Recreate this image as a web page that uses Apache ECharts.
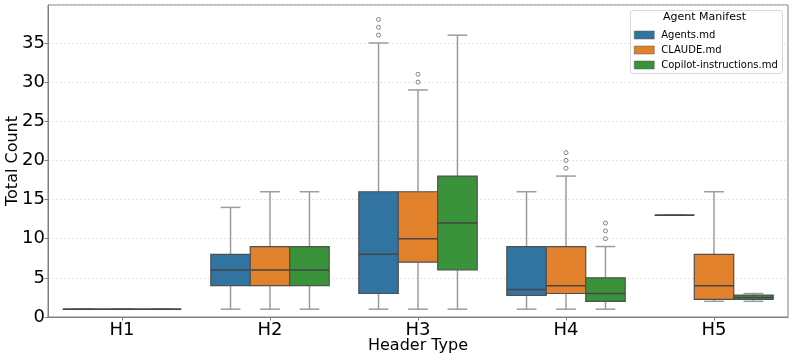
<!DOCTYPE html>
<html>
<head>
<meta charset="utf-8">
<script src="https://cdn.jsdelivr.net/npm/echarts@6/dist/echarts.min.js"></script>
<style>
html,body{margin:0;padding:0;background:#fff;}
#chart{width:793px;height:361px;}
</style>
</head>
<body>
<div id="chart"></div>
<script>
// Categories and hue names
const categories = ['H1', 'H2', 'H3', 'H4', 'H5'];
const hueNames = ['Agents.md', 'CLAUDE.md', 'Copilot-instructions.md'];
const yTicks = [0, 5, 10, 15, 20, 25, 30, 35];

// Box stats per category: [whiskerLow, Q1, median, Q3, whiskerHigh]
const agentsStats = [
  [1, 1, 1, 1, 1],
  [1, 4, 6, 8, 14],
  [1, 3, 8, 16, 35],
  [1, 2.75, 3.5, 9, 16],
  [13, 13, 13, 13, 13]
];
const claudeStats = [
  [1, 1, 1, 1, 1],
  [1, 4, 6, 9, 16],
  [1, 7, 10, 16, 29],
  [1, 3, 4, 9, 18],
  [2, 2.25, 4, 8, 16]
];
const copilotStats = [
  [1, 1, 1, 1, 1],
  [1, 4, 6, 9, 16],
  [1, 6, 12, 18, 36],
  [1, 2, 3, 5, 9],
  [2, 2.25, 2.5, 2.8, 3]
];

// Outliers: [categoryIndex, value]
const agentsOutliers = [[2, 36], [2, 37], [2, 38]];
const claudeOutliers = [[2, 30], [2, 31], [3, 19], [3, 20], [3, 21]];
const copilotOutliers = [[3, 10], [3, 11], [3, 12]];

const colors = ['#3274a1', '#e1812c', '#3a923a'];
const statsList = [agentsStats, claudeStats, copilotStats];
const outlierList = [agentsOutliers, claudeOutliers, copilotOutliers];
const offsets = [-1 / 3 * 0.8, 0, 1 / 3 * 0.8];

function boxRenderer(offsetFrac, color) {
  return function (params, api) {
    const cat = api.value(0);
    const band = api.size([1, 0])[0];
    const xc = api.coord([cat, 0])[0] + offsetFrac * band;
    const w = band * 0.8 / 3;
    const y = v => api.coord([cat, v])[1];
    const lo = y(api.value(1)), q1 = y(api.value(2)), med = y(api.value(3)),
          q3 = y(api.value(4)), hi = y(api.value(5));
    const wStyle = { stroke: '#9c9c9c', lineWidth: 1.5, fill: null };
    const children = [
      { type: 'line', shape: { x1: xc, y1: q3, x2: xc, y2: hi }, style: wStyle },
      { type: 'line', shape: { x1: xc, y1: q1, x2: xc, y2: lo }, style: wStyle },
      { type: 'line', shape: { x1: xc - w / 4, y1: hi, x2: xc + w / 4, y2: hi }, style: wStyle },
      { type: 'line', shape: { x1: xc - w / 4, y1: lo, x2: xc + w / 4, y2: lo }, style: wStyle },
      { type: 'rect', shape: { x: xc - w / 2, y: q3, width: w, height: q1 - q3 },
        style: { fill: color, stroke: '#505050', lineWidth: 1.2 } },
      { type: 'line', shape: { x1: xc - w / 2, y1: med, x2: xc + w / 2, y2: med },
        style: { stroke: '#454545', lineWidth: 1.5 } }
    ];
    return { type: 'group', children: children };
  };
}

function outlierRenderer(offsetFrac) {
  return function (params, api) {
    const cat = api.value(0);
    const band = api.size([1, 0])[0];
    const pt = api.coord([cat, api.value(1)]);
    return {
      type: 'circle',
      shape: { cx: pt[0] + offsetFrac * band, cy: pt[1], r: 2 },
      style: { fill: '#fff', stroke: '#808080', lineWidth: 1 }
    };
  };
}

const series = [];
hueNames.forEach((name, i) => {
  series.push({
    name: name,
    type: 'custom',
    itemStyle: { color: colors[i] },
    renderItem: boxRenderer(offsets[i], colors[i]),
    encode: { x: 0, y: [1, 2, 3, 4, 5] },
    data: statsList[i].map((s, k) => [k].concat(s)),
    z: 3
  });
});
hueNames.forEach((name, i) => {
  series.push({
    name: name,
    type: 'custom',
    itemStyle: { color: colors[i] },
    renderItem: outlierRenderer(offsets[i]),
    encode: { x: 0, y: 1 },
    data: outlierList[i],
    z: 4
  });
});

const chart = echarts.init(document.getElementById('chart'), null, { renderer: 'canvas' });
const font = 'DejaVu Sans';
chart.setOption({
  animation: false,
  textStyle: { fontFamily: font },
  grid: { left: 48, right: 5, top: 5, bottom: 44, outerBoundsMode: 'none', containLabel: false,
          show: true, borderColor: '#808080', borderWidth: 1, backgroundColor: 'transparent' },
  xAxis: {
    type: 'category',
    data: categories,
    name: 'Header Type',
    nameLocation: 'middle',
    nameGap: 21,
    nameMoveOverlap: false,
    nameTextStyle: { fontSize: 16, color: '#000', fontFamily: font },
    axisLine: { lineStyle: { color: '#808080', width: 1 } },
    axisTick: { show: true, alignWithLabel: true, length: 3.5, lineStyle: { color: '#808080' } },
    axisLabel: { fontSize: 18, color: '#000', margin: 4, fontFamily: font },
    splitLine: { show: false }
  },
  yAxis: {
    type: 'value',
    min: 0,
    max: 39.85,
    interval: 5,
    name: 'Total Count',
    nameLocation: 'middle',
    nameGap: 27,
    nameMoveOverlap: false,
    nameTextStyle: { fontSize: 16, color: '#000', fontFamily: font },
    axisLine: { show: true, lineStyle: { color: '#808080', width: 1 } },
    axisTick: { show: true, length: 3.5, lineStyle: { color: '#808080' } },
    axisLabel: {
      fontSize: 18, color: '#000', margin: 3, fontFamily: font,
      showMaxLabel: false,
      formatter: v => (yTicks.indexOf(v) >= 0 ? String(v) : '')
    },
    splitLine: { show: true, lineStyle: { color: '#dcdcdc', type: [2, 2], width: 0.8 } }
  },
  legend: {
    data: hueNames.map(n => ({ name: n, icon: 'rect' })),
    orient: 'vertical',
    left: 634,
    top: 29,
    itemWidth: 20,
    itemHeight: 8,
    itemGap: 3,
    textStyle: { fontSize: 10, color: '#000', fontFamily: font, lineHeight: 12, padding: [0, 0, 0, 2] },
    itemStyle: { borderColor: '#555', borderWidth: 0.5 },
    padding: 0,
    selectedMode: false,
    z: 20
  },
  graphic: [
    { type: 'rect', left: 630, top: 10, shape: { width: 152, height: 63, r: 3 },
      style: { fill: 'rgba(255,255,255,0.8)', stroke: '#d6d6d6', lineWidth: 1 }, z: 10 }
  ],
  title: {
    text: 'Agent Manifest',
    left: 663,
    top: 12,
    padding: 0,
    z: 20,
    textStyle: { fontSize: 11, fontWeight: 'normal', color: '#000', fontFamily: font }
  },
  series: series
});
</script>
</body>
</html>
